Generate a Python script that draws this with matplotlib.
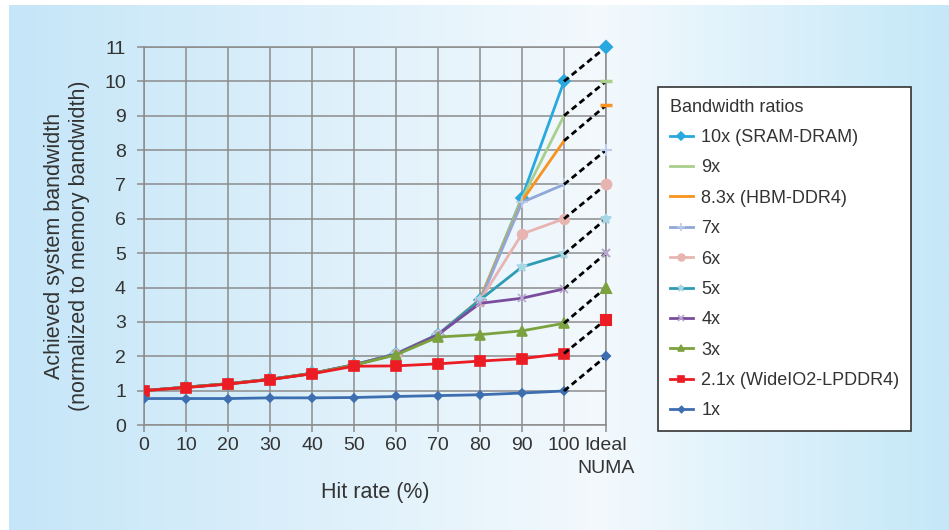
import numpy as np
import matplotlib
matplotlib.use("Agg")
import matplotlib.pyplot as plt

plt.rcParams["font.family"] = ["Liberation Sans", "DejaVu Sans"]

# hit rate positions 0..100 and the extra "Ideal NUMA" slot
hit_rates = [0, 10, 20, 30, 40, 50, 60, 70, 80, 90, 100]
ideal_pos = 110
x_tick_labels = ["0", "10", "20", "30", "40", "50", "60", "70", "80", "90", "100", "Ideal\nNUMA"]

series_names = ["10x (SRAM-DRAM)", "9x", "8.3x (HBM-DDR4)", "7x", "6x", "5x", "4x", "3x",
                "2.1x (WideIO2-LPDDR4)", "1x"]

bw_10x = [1.0, 1.1, 1.2, 1.33, 1.5, 1.75, 2.07, 2.63, 3.65, 6.62, 10.0]
bw_9x = [1.0, 1.1, 1.2, 1.33, 1.5, 1.75, 2.07, 2.63, 3.65, 6.58, 9.0]
bw_83x = [1.0, 1.1, 1.2, 1.33, 1.5, 1.75, 2.07, 2.63, 3.65, 6.52, 8.27]
bw_7x = [1.0, 1.1, 1.2, 1.33, 1.5, 1.75, 2.07, 2.63, 3.6, 6.48, 7.0]
bw_6x = [1.0, 1.1, 1.2, 1.33, 1.5, 1.75, 2.07, 2.63, 3.62, 5.56, 6.0]
bw_5x = [1.0, 1.1, 1.2, 1.33, 1.5, 1.75, 2.07, 2.63, 3.64, 4.6, 4.97]
bw_4x = [1.0, 1.1, 1.2, 1.33, 1.5, 1.75, 2.06, 2.63, 3.54, 3.69, 3.96]
bw_3x = [1.0, 1.1, 1.2, 1.33, 1.5, 1.74, 2.04, 2.56, 2.63, 2.74, 2.96]
bw_21x = [1.0, 1.09, 1.19, 1.32, 1.49, 1.71, 1.72, 1.78, 1.86, 1.93, 2.08]
bw_1x = [0.77, 0.77, 0.77, 0.79, 0.79, 0.80, 0.83, 0.855, 0.88, 0.93, 0.99]

ideal_values = [11.0, 10.0, 9.3, 8.0, 7.0, 6.0, 5.0, 4.0, 3.07, 2.0]

all_series = [bw_10x, bw_9x, bw_83x, bw_7x, bw_6x, bw_5x, bw_4x, bw_3x, bw_21x, bw_1x]

# line colour, marker, marker size, marker colour
styles = [
    ("#29a8e0", "D", 6.5, "#29a8e0"),
    ("#a9cf8c", "_", 8, "#a9cf8c"),
    ("#f7931e", "_", 8, "#f7931e"),
    ("#8fa8d8", "+", 8, "#bccbe8"),
    ("#e8b4b2", "o", 7, "#e8b4b2"),
    ("#2f9bb3", "*", 7, "#a8d6e4"),
    ("#7a4d9c", "x", 6, "#b9a6d3"),
    ("#7ba23f", "^", 7, "#7ba23f"),
    ("#ec1c24", "s", 7, "#ec1c24"),
    ("#3d6eb0", "D", 4.5, "#3d6eb0"),
]

W, H = 949, 530
fig = plt.figure(figsize=(W / 100, H / 100), dpi=100)

# background panel with horizontal blue-white-blue gradient
bg = fig.add_axes([9 / W, 0, 1 - 9 / W, 1 - 5 / H], zorder=-10)
xs = np.linspace(9, W, 600)
stops_x = [9, 600, W]
cols = np.array([[197, 230, 248], [243, 249, 253], [196, 232, 248]]) / 255
grad = np.stack([np.interp(xs, stops_x, cols[:, i]) for i in range(3)], axis=-1)
bg.imshow(grad[np.newaxis, :, :], aspect="auto", extent=[0, 1, 0, 1])
bg.axis("off")

ax = fig.add_axes([144 / W, 1 - 425 / H, (606 - 144) / W, (425 - 47) / H])
ax.patch.set_alpha(0)

grid_col = "#8c8c8c"
txt_col = "#333333"
handles = []
for i, (name, vals, ideal, st) in enumerate(zip(series_names, all_series, ideal_values, styles)):
    col, mk, ms, mcol = st
    z = 3 + i * 0.1  # lower ratios drawn on top
    if mk == "_":
        line, = ax.plot(hit_rates, vals, color=col, lw=2, zorder=z, label=name)
    else:
        line, = ax.plot(hit_rates, vals, color=col, lw=2, marker=mk, ms=ms,
                        mfc=mcol, mec=mcol, mew=1.2, zorder=z, label=name)
    handles.append(line)
    ax.plot([hit_rates[-1], ideal_pos], [vals[-1], ideal], color="black",
            lw=2, ls=(0, (2.2, 1.4)), zorder=5)
    ax.plot([ideal_pos], [ideal], ls="none", marker=mk, ms=ms, mfc=mcol, mec=mcol,
            mew=1.5 if mk != "_" else 2.5, zorder=6, clip_on=False)

ax.set_xlim(0, ideal_pos)
ax.set_ylim(0, 11)
ax.set_xticks(hit_rates + [ideal_pos])
ax.set_xticklabels(x_tick_labels, linespacing=1.45)
ax.set_yticks(range(0, 12))
ax.grid(True, color=grid_col, lw=1.1)
ax.set_axisbelow(True)
for s in ax.spines.values():
    s.set_color(grid_col)
    s.set_linewidth(1.1)
ax.tick_params(length=5, width=1.1, color=grid_col, labelsize=14, labelcolor=txt_col)
ax.tick_params(axis="x", pad=4)
ax.tick_params(axis="y", pad=8)

ax.set_xlabel("Hit rate (%)", fontsize=15.5, color=txt_col)
ax.xaxis.set_label_coords(0.5, -0.15)
ax.set_ylabel("Achieved system bandwidth\n(normalized to memory bandwidth)",
              fontsize=15.5, color=txt_col, linespacing=1.3)
ax.yaxis.set_label_coords(-0.116, 0.474)

leg = fig.legend(handles=handles, title="Bandwidth ratios", loc="upper left",
                 bbox_to_anchor=(658 / W, 1 - 87 / H), borderaxespad=0,
                 fontsize=13, title_fontsize=13,
                 frameon=True, fancybox=False, edgecolor="#333333", framealpha=1,
                 labelspacing=0.74, handlelength=1.3, handletextpad=0.45,
                 borderpad=0.65, markerscale=0.7)
leg.get_frame().set_linewidth(1.2)
leg._legend_box.align = "left"
for t in leg.get_texts():
    t.set_color(txt_col)
leg.get_title().set_color(txt_col)

fig.savefig("out.png", dpi=100)
